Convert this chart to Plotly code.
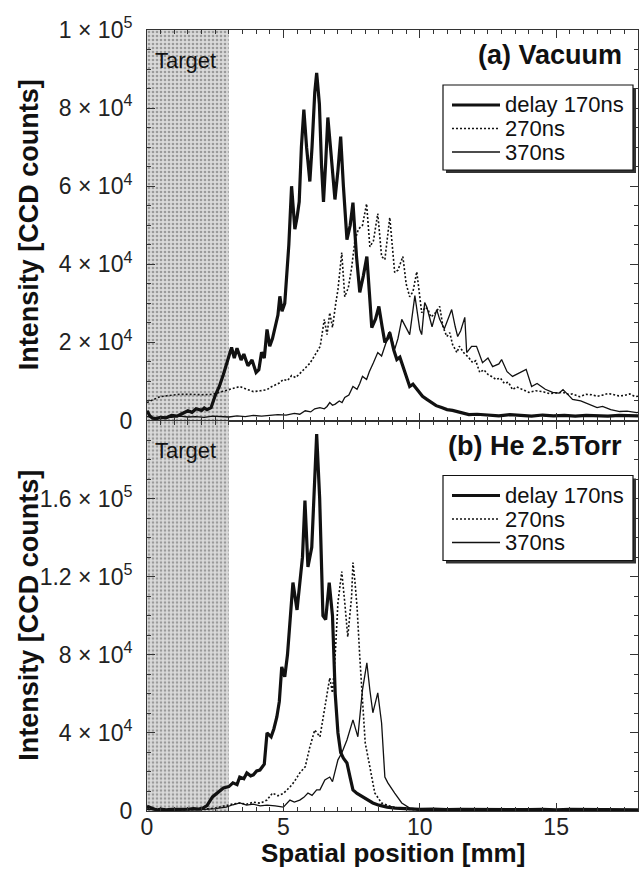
import plotly.graph_objects as go
from plotly.subplots import make_subplots

# ---------------- data ----------------
x_range = [0, 18]
target_x = [0, 3]
legend_labels = ["delay 170ns", "270ns", "370ns"]
panel_titles = ["(a) Vacuum", "(b) He 2.5Torr"]
target_label = "Target"

x_ticks = [0, 5, 10, 15]
x_tick_text = ["0", "5", "10", "15"]

top_y_range = [0, 100000]
top_y_ticks = [0, 20000, 40000, 60000, 80000, 100000]
top_y_text = ["0", "2 × 10<sup>4</sup>", "4 × 10<sup>4</sup>", "6 × 10<sup>4</sup>",
              "8 × 10<sup>4</sup>", "1 × 10<sup>5</sup>"]

bot_y_range = [0, 200000]
bot_y_ticks = [0, 40000, 80000, 120000, 160000]
bot_y_text = ["0", "4 × 10<sup>4</sup>", "8 × 10<sup>4</sup>", "1.2 × 10<sup>5</sup>",
              "1.6 × 10<sup>5</sup>"]

# (a) Vacuum
vac_170_x = [0.0, 0.1, 0.2, 0.35, 0.5, 0.7, 0.9, 1.1, 1.3, 1.5, 1.65, 1.8, 2.0, 2.1, 2.2,
             2.35, 2.5, 2.65, 2.8, 2.95, 3.1, 3.2, 3.3, 3.45, 3.55, 3.7, 3.85, 4.0, 4.1, 4.2,
             4.3, 4.4, 4.5, 4.6, 4.7, 4.8, 4.87, 4.95, 5.05, 5.12, 5.2, 5.3, 5.35, 5.42,
             5.5, 5.58, 5.66, 5.75, 5.85, 5.97, 6.05, 6.15, 6.22, 6.32, 6.4, 6.47, 6.55,
             6.63, 6.75, 6.89, 7.0, 7.1, 7.2, 7.33, 7.45, 7.55, 7.68, 7.8, 7.93, 8.06, 8.15,
             8.24, 8.38, 8.5, 8.62, 8.72, 8.82, 8.9, 9.05, 9.16, 9.27, 9.38, 9.5, 9.63, 9.75,
             9.9, 10.1, 10.26, 10.45, 10.6, 10.8, 11.0, 11.2, 11.4, 11.6, 11.8, 12.1, 12.5,
             12.9, 13.3, 13.7, 14.1, 14.5, 14.9, 15.3, 15.7, 16.1, 16.5, 16.9, 17.3, 17.7,
             18.0]
vac_170_y = [2500, 1200, 600, 500, 800, 700, 1300, 1100, 1800, 2500, 2100, 3000, 2600, 3200,
             2800, 3300, 6400, 8700, 11800, 15100, 18700, 16000, 18500, 15500, 17000, 14000,
             15500, 12300, 13000, 17500, 16000, 23300, 19000, 21000, 24500, 27000, 31800,
             28000, 30000, 36000, 45000, 60000, 55000, 49000, 52000, 56000, 70000, 79600,
             70000, 61200, 70000, 84000, 89000, 81000, 65000, 56000, 66000, 77600, 68000,
             56600, 64000, 72700, 60000, 46300, 50000, 55800, 42000, 32800, 37000, 42000,
             33000, 23800, 26000, 29200, 24000, 20000, 21000, 22500, 18000, 15600, 16200,
             13800, 11500, 8700, 9300, 7900, 6200, 5400, 4600, 3800, 3300, 2800, 2600, 2200,
             1900, 1500, 1600, 1400, 1200, 1500, 1300, 1100, 1400, 1200, 1300, 1100, 1300,
             1200, 1100, 1300, 1200, 1200]

vac_270_x = [0.0, 0.2, 0.47, 0.8, 1.2, 1.6, 2.0, 2.4, 2.7, 3.0, 3.2, 3.4, 3.65, 3.9, 4.15,
             4.4, 4.55, 4.7, 4.85, 5.0, 5.15, 5.3, 5.45, 5.6, 5.75, 5.85, 5.95, 6.05, 6.2,
             6.35, 6.5, 6.6, 6.7, 6.8, 6.92, 7.0, 7.14, 7.25, 7.38, 7.5, 7.62, 7.75, 7.9,
             8.05, 8.17, 8.3, 8.46, 8.6, 8.72, 8.9, 9.08, 9.2, 9.38, 9.5, 9.63, 9.75, 9.89,
             10.07, 10.2, 10.3, 10.4, 10.5, 10.62, 10.73, 10.85, 10.99, 11.1, 11.2, 11.36,
             11.45, 11.55, 11.65, 11.76, 11.94, 12.05, 12.2, 12.35, 12.5, 12.65, 12.8, 12.95,
             13.1, 13.25, 13.4, 13.55, 13.7, 13.85, 14.0, 14.25, 14.5, 14.75, 15.0, 15.25,
             15.45, 15.6, 15.86, 16.1, 16.3, 16.5, 16.7, 16.9, 17.07, 17.3, 17.5, 17.7,
             17.9, 18.0]
vac_270_y = [4600, 5200, 6100, 6400, 6700, 6700, 6600, 6700, 7200, 7900, 8300, 8700, 8000,
             7400, 7600, 7900, 8600, 9000, 9600, 10500, 10200, 11500, 11000, 12000, 13000,
             13800, 14500, 15500, 17400, 19000, 25900, 22000, 27600, 23800, 30000, 33500,
             43000, 31700, 34000, 39000, 46000, 49000, 50000, 55500, 44500, 46000, 53000,
             42000, 41200, 52000, 37900, 38500, 42000, 35000, 31700, 33000, 38100, 27600,
             29000, 28500, 26500, 27000, 28000, 29200, 24000, 21500, 22500, 19500, 17400,
             19000, 18000, 17000, 16400, 14800, 15300, 12300, 13000, 11800, 11200, 10500,
             10900, 9500, 9800, 7900, 8600, 8200, 7600, 7200, 7600, 7400, 6900, 7000, 7200,
             6700, 6800, 6100, 6700, 6600, 6200, 6500, 6900, 6700, 6300, 6400, 6800, 6100,
             6200]

vac_370_x = [0.0, 0.3, 0.6, 0.9, 1.2, 1.5, 1.8, 2.1, 2.4, 2.7, 3.0, 3.3, 3.6, 3.9, 4.2,
             4.5, 4.8, 5.1, 5.4, 5.6, 5.8, 6.0, 6.15, 6.34, 6.5, 6.6, 6.7, 6.8, 6.9, 7.05,
             7.15, 7.25, 7.4, 7.55, 7.7, 7.8, 7.9, 8.05, 8.15, 8.3, 8.46, 8.6, 8.75, 8.9,
             9.08, 9.2, 9.34, 9.52, 9.63, 9.82, 10.0, 10.07, 10.18, 10.26, 10.45, 10.62,
             10.73, 10.9, 11.05, 11.17, 11.3, 11.39, 11.5, 11.65, 11.72, 11.9, 12.08, 12.3,
             12.5, 12.67, 12.9, 13.0, 13.2, 13.4, 13.6, 13.9, 14.1, 14.3, 14.6, 14.87, 15.1,
             15.25, 15.45, 15.6, 15.9, 16.23, 16.5, 16.7, 17.0, 17.33, 17.6, 17.95, 18.0]
vac_370_y = [1000, 700, 900, 800, 1100, 900, 1000, 800, 1100, 1000, 900, 1200, 1000, 1300,
             1100, 1300, 1500, 1400, 1800, 1600, 2500, 2200, 3000, 3300, 3000, 3600, 4600,
             3900, 4200, 5000, 4600, 5900, 6500, 8700, 8000, 9500, 11300, 10500, 12500, 14800,
             17400, 16500, 19500, 22800, 18200, 21000, 25900, 23300, 22000, 32000, 23300,
             22000, 30200, 29000, 24000, 28400, 25900, 23500, 26000, 28400, 24000, 21500,
             23000, 26400, 17400, 19000, 19000, 14800, 16000, 13800, 14500, 15600, 12500,
             11300, 12000, 13100, 8700, 9500, 8000, 7200, 7000, 7900, 6500, 5400, 5000,
             4100, 3300, 3600, 2800, 2300, 2400, 2000, 2100]

# (b) He 2.5 Torr
he_170_x = [0.0, 0.1, 0.2, 0.35, 0.5, 0.7, 0.9, 1.1, 1.3, 1.5, 1.7, 1.9, 2.05, 2.2, 2.4,
            2.6, 2.8, 3.0, 3.15, 3.3, 3.4, 3.55, 3.66, 3.8, 3.9, 4.02, 4.14, 4.3, 4.4, 4.55,
            4.65, 4.76, 4.85, 4.94, 5.05, 5.15, 5.24, 5.35, 5.5, 5.6, 5.7, 5.79, 5.9, 6.04,
            6.12, 6.22, 6.33, 6.45, 6.55, 6.68, 6.8, 6.9, 7.0, 7.1, 7.2, 7.33, 7.45, 7.55,
            7.7, 7.9, 8.1, 8.28, 8.5, 8.8, 9.1, 9.5, 10.0, 10.5, 11.0, 11.5, 12.0, 12.5,
            13.0, 13.5, 14.0, 14.5, 15.0, 15.5, 16.0, 16.5, 17.0, 17.5, 18.0]
he_170_y = [2500, 2000, 1200, 500, 900, 600, 800, 700, 1000, 900, 1200, 1000, 1500, 2800,
            7200, 9500, 11800, 12500, 14400, 13500, 17400, 16500, 19500, 18000, 18500, 20500,
            21000, 24000, 40000, 38000, 42000, 48200, 56000, 73800, 68700, 80000, 98000,
            117000, 103000, 115000, 130000, 159000, 125000, 135000, 165000, 193000, 160000,
            100000, 98000, 117000, 100000, 60000, 40000, 30000, 27000, 24600, 17000, 10800,
            9000, 7200, 5500, 4100, 3000, 2000, 1500, 1200, 800, 1000, 700, 900, 800, 600,
            900, 700, 700, 800, 600, 900, 800, 600, 700, 800, 600]

he_270_x = [0.0, 0.5, 1.0, 1.5, 2.0, 2.5, 2.9, 3.15, 3.4, 3.65, 3.9, 4.15, 4.4, 4.6, 4.8,
            5.0, 5.24, 5.4, 5.6, 5.8, 5.97, 6.15, 6.34, 6.52, 6.7, 6.8, 6.9, 7.0, 7.14,
            7.25, 7.36, 7.5, 7.55, 7.62, 7.7, 7.8, 7.9, 8.0, 8.17, 8.35, 8.6, 9.0, 9.5,
            10.0, 11.0, 12.0, 13.0, 14.0, 15.0, 16.0, 17.0, 18.0]
he_270_y = [1500, 800, 600, 700, 800, 1500, 3000, 3600, 4100, 3500, 4500, 4000, 5600, 9200,
            7800, 9000, 12300, 15000, 19500, 22600, 32800, 41500, 38000, 53000, 68200,
            60500, 80000, 106700, 122600, 106700, 89200, 109700, 127200, 118000, 104600,
            79000, 55000, 34900, 22600, 9200, 4100, 2000, 1000, 500, 600, 500, 700, 600,
            500, 600, 500, 600]

he_370_x = [0.0, 0.5, 1.0, 1.5, 2.0, 2.5, 2.9, 3.15, 3.4, 3.65, 3.9, 4.15, 4.4, 4.7, 5.0,
            5.24, 5.4, 5.6, 5.75, 5.9, 6.05, 6.22, 6.34, 6.52, 6.7, 6.8, 7.0, 7.14, 7.33,
            7.55, 7.73, 7.9, 8.06, 8.17, 8.28, 8.46, 8.6, 8.72, 8.83, 9.08, 9.34, 9.63,
            10.3, 11.0, 12.0, 13.0, 14.0, 15.0, 16.0, 17.0, 18.0]
he_370_y = [800, 500, 600, 500, 700, 1200, 2000, 3200, 4100, 3000, 3500, 2600, 3000, 2600,
            2000, 5600, 4600, 5600, 7000, 9200, 8000, 10800, 10800, 15900, 17400, 15000,
            26200, 29700, 36400, 46700, 38000, 62000, 75900, 62000, 50300, 60500, 45100,
            17400, 14400, 9200, 4100, 1500, 500, 700, 500, 600, 800, 600, 500, 700, 600]

# ---------------- figure ----------------
W, H = 644, 871
ML, MR, MT, MB = 147, 6, 30, 60
PW = W - ML - MR
PH = (H - MT - MB) / 2.0

fig = make_subplots(rows=2, cols=1, shared_xaxes=True, vertical_spacing=0)

styles = [dict(color="#111111", width=3.2),
          dict(color="#111111", width=1.6, dash="2px,2px"),
          dict(color="#111111", width=1.3)]

panels = [
    (1, top_y_range, [(vac_170_x, vac_170_y), (vac_270_x, vac_270_y), (vac_370_x, vac_370_y)]),
    (2, bot_y_range, [(he_170_x, he_170_y), (he_270_x, he_270_y), (he_370_x, he_370_y)]),
]

for row, yr, series in panels:
    t0, t1 = target_x
    fig.add_trace(go.Scatter(
        x=[t0, t1, t1, t0, t0], y=[yr[0], yr[0], yr[1], yr[1], yr[0]],
        mode="lines", fill="toself", line=dict(width=0),
        fillcolor="#d4d4d4",
        fillpattern=dict(shape=".", fgcolor="#5a5a5a", bgcolor="#dadada",
                         size=4, solidity=0.35),
        hoverinfo="skip", showlegend=False), row=row, col=1)
    for (xs, ys), st, name in zip(series, styles, legend_labels):
        fig.add_trace(go.Scatter(x=xs, y=ys, mode="lines", line=st, name=name,
                                 showlegend=False), row=row, col=1)

tickfont = dict(family="Liberation Sans, Arial, sans-serif", size=23, color="#222222")
axcol = "#333333"
common_x = dict(range=x_range, showline=True, linecolor=axcol, linewidth=1, mirror="ticks",
                ticks="inside", ticklen=8, tickcolor=axcol, tickvals=x_ticks,
                ticktext=x_tick_text, showgrid=False, zeroline=False, tickfont=tickfont,
                minor=dict(tick0=0, dtick=0.5, ticks="inside", ticklen=4, tickcolor=axcol,
                           showgrid=False))
fig.update_xaxes(**common_x)
fig.update_xaxes(showticklabels=False, row=1, col=1)
fig.update_xaxes(showticklabels=True, ticklabelstandoff=-5, row=2, col=1)

common_y = dict(showline=True, linecolor=axcol, linewidth=1, mirror="ticks", ticks="inside",
                ticklen=8, tickcolor=axcol, showgrid=False, zeroline=False,
                tickfont=tickfont, ticklabelstandoff=9)
fig.update_yaxes(range=top_y_range, tickvals=top_y_ticks, ticktext=top_y_text,
                 minor=dict(tick0=0, dtick=5000, ticks="inside", ticklen=4,
                            tickcolor=axcol, showgrid=False),
                 row=1, col=1, **common_y)
fig.update_yaxes(range=bot_y_range, tickvals=bot_y_ticks, ticktext=bot_y_text,
                 minor=dict(tick0=0, dtick=10000, ticks="inside", ticklen=4,
                            tickcolor=axcol, showgrid=False),
                 row=2, col=1, **common_y)

# helpers: pixel -> domain fraction
def xd(px):
    return (px - ML) / PW

def yd(py, row):
    bottom = MT + PH * row
    return (bottom - py) / PH

boldfont = dict(family="Liberation Sans, Arial, sans-serif", size=27, color="#111111")
textfont = dict(family="Liberation Sans, Arial, sans-serif", size=22, color="#111111")

shapes = []
annotations = []
for row, title in zip([1, 2], panel_titles):
    xr = "x domain" if row == 1 else "x2 domain"
    yr_ = "y domain" if row == 1 else "y2 domain"
    top = MT + PH * (row - 1)
    # panel title
    annotations.append(dict(text="<b>%s</b>" % title, xref=xr, yref=yr_, x=xd(624),
                            y=yd(top + 25, row), xanchor="right", yanchor="middle",
                            showarrow=False, font=boldfont))
    # target label
    annotations.append(dict(text=target_label, xref=xr, yref=yr_, x=xd(153),
                            y=yd(top + 30, row), xanchor="left", yanchor="middle",
                            showarrow=False, font=textfont))
    # legend box with shadow
    bx0, bx1 = 443, 633
    by0 = top + 55
    by1 = by0 + 85
    shapes.append(dict(type="rect", xref=xr, yref=yr_, x0=xd(bx0 + 3), x1=xd(bx1 + 3),
                       y0=yd(by0 + 3, row), y1=yd(by1 + 3, row), fillcolor="#333333",
                       line=dict(width=0), layer="above"))
    shapes.append(dict(type="rect", xref=xr, yref=yr_, x0=xd(bx0), x1=xd(bx1),
                       y0=yd(by0, row), y1=yd(by1, row), fillcolor="white",
                       line=dict(color="#111111", width=1.2), layer="above"))
    for k, (st, name) in enumerate(zip(styles, legend_labels)):
        ry = by0 + 20 + 23.5 * k
        shapes.append(dict(type="line", xref=xr, yref=yr_, x0=xd(452), x1=xd(500),
                           y0=yd(ry, row), y1=yd(ry, row), line=st, layer="above"))
        annotations.append(dict(text=name, xref=xr, yref=yr_, x=xd(503), y=yd(ry, row),
                                xanchor="left", yanchor="middle", showarrow=False,
                                font=textfont))

# axis titles
annotations.append(dict(text="<b>Spatial position [mm]</b>", xref="paper", yref="paper",
                        x=0.5, y=(H - MB - 870) / (H - MT - MB), xanchor="center",
                        yanchor="bottom", showarrow=False,
                        font=dict(family="Liberation Sans, Arial, sans-serif", size=26,
                                  color="#111111")))
for row in [1, 2]:
    yr_ = "y domain" if row == 1 else "y2 domain"
    annotations.append(dict(text="<b>Intensity [CCD counts]</b>", xref="paper", yref=yr_,
                            x=(29 - ML) / PW, y=0.5, xanchor="center", yanchor="middle",
                            textangle=-90, showarrow=False, font=boldfont))

fig.update_layout(width=W, height=H, margin=dict(l=ML, r=MR, t=MT, b=MB),
                  paper_bgcolor="white", plot_bgcolor="white", showlegend=False,
                  shapes=shapes, annotations=annotations)

fig.write_html("out.html")
